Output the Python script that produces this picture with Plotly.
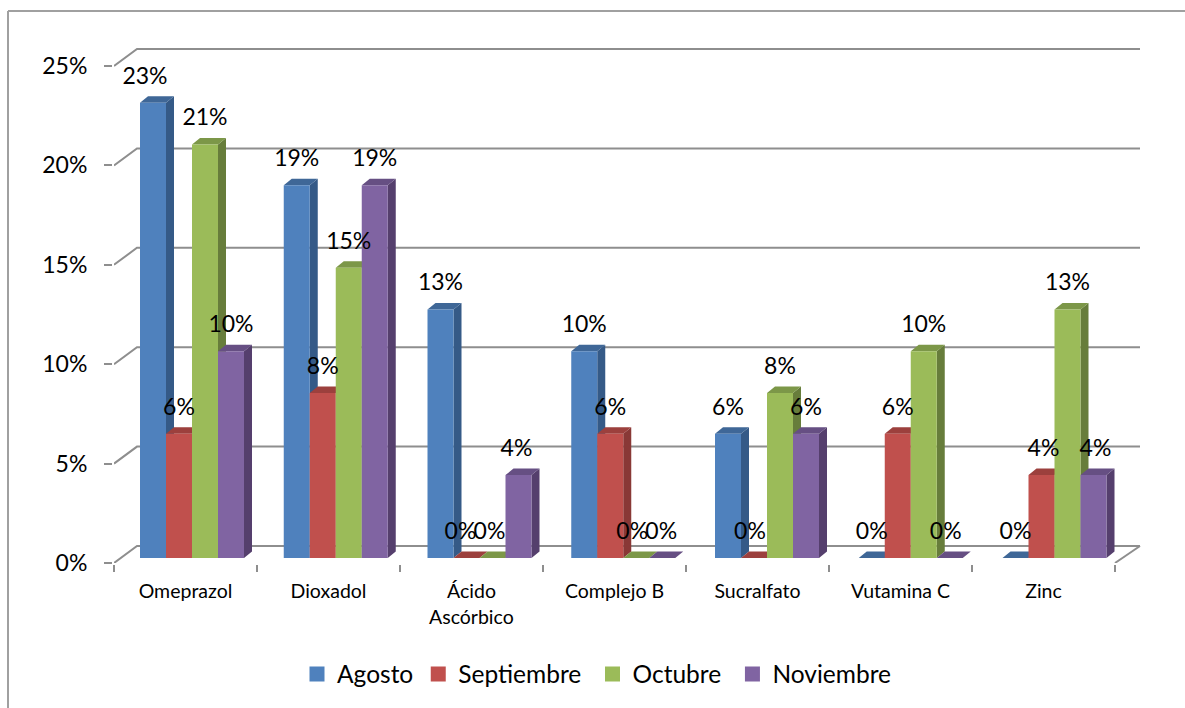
import math
import plotly.graph_objects as go

# ---------- data ----------
CATEGORIES = ["Omeprazol", "Dioxadol", "Ácido", "Complejo B", "Sucralfato", "Vutamina C", "Zinc"]
SERIES = ["Agosto", "Septiembre", "Octubre", "Noviembre"]
LEGEND_NAMES = ["Agosto", "Septiembre\u00a0", "Octubre\u00a0", "Noviembre"]
AGOSTO = [22.9, 18.75, 12.5, 10.4, 6.25, 0, 0]
SEPTIEMBRE = [6.25, 8.3, 0, 6.25, 0, 6.25, 4.17]
OCTUBRE = [20.8, 14.6, 0, 0, 8.3, 10.4, 12.5]
NOVIEMBRE = [10.4, 18.75, 4.17, 0, 6.25, 0, 4.17]
Y_TICKS = [0, 5, 10, 15, 20, 25]

VALUES = [AGOSTO, SEPTIEMBRE, OCTUBRE, NOVIEMBRE]
FRONT = ["#4F81BD", "#C0504D", "#9BBB59", "#8064A2"]
SIDE = ["#355A87", "#893836", "#677D3B", "#553F6D"]
TOP = ["#3F6797", "#9C403D", "#7C9748", "#664F83"]
GRID = "#8E8E8E"
FONT = "Lato, 'Open Sans', sans-serif"

# ---------- geometry helpers (pixels per data unit) ----------
PX_X = 143.0
PX_Y = 497 / 25
W, H = 1185, 708
L, R_EDGE, T, B_EDGE = 114, 1142, 44, 563
to_x = lambda px: px / PX_X
to_y = lambda px: px / PX_Y

WALL_DX, WALL_DY = to_x(23), to_y(17)
WALL_END = to_x(1140 - L)
BAR_DX, BAR_DY = to_x(8), to_y(6.5)
BASE = to_y(5)
BAR_W = to_x(26)
GROUP_START = to_x(26)
GROUP_STEP = 143.75 / PX_X
X_MAX = to_x(R_EDGE - L)
Y_MAX = to_y(B_EDGE - T)

# label nudges in px where the original label sits off the bar centre
NUDGE = {(0, 0): -8, (1, 2): -6, (2, 2): -3, (2, 3): -4, (3, 3): -1, (1, 4): -4,
         (3, 2): -2, (3, 5): -4, (1, 6): 2, (3, 6): 2}

fig = go.Figure()

# back wall grid, floor and connectors
gx, gy = [], []
for t in Y_TICKS:
    gx += [0, WALL_DX, WALL_END, None]
    gy += [t, t + WALL_DY, t + WALL_DY, None]
gx += [7, WALL_END]
gy += [0, WALL_DY]
fig.add_trace(go.Scatter(x=gx, y=gy, mode="lines", line=dict(color=GRID, width=2),
                         showlegend=False, hoverinfo="skip", cliponaxis=False, zorder=-1))

for s, vals in enumerate(VALUES):
    lefts = [GROUP_START + i * GROUP_STEP + s * BAR_W for i in range(len(vals))]
    sx, sy, tx, ty = [], [], [], []
    for x0, v in zip(lefts, vals):
        x1 = x0 + BAR_W
        top = BASE + v
        sx += [x1, x1 + BAR_DX, x1 + BAR_DX, x1, x1, None]
        sy += [BASE, BASE + BAR_DY, top + BAR_DY, top, BASE, None]
        tx += [x0, x0 + BAR_DX, x1 + BAR_DX, x1, x0, None]
        ty += [top, top + BAR_DY, top + BAR_DY, top, top, None]
    fig.add_trace(go.Scatter(x=sx, y=sy, mode="lines", fill="toself", fillcolor=SIDE[s],
                             line=dict(width=0, color=SIDE[s]), showlegend=False,
                             hoverinfo="skip", zorder=2 * s))
    fig.add_trace(go.Scatter(x=tx, y=ty, mode="lines", fill="toself", fillcolor=TOP[s],
                             line=dict(width=0, color=TOP[s]), showlegend=False,
                             hoverinfo="skip", zorder=2 * s))
    fig.add_trace(go.Bar(x=[x + BAR_W / 2 for x in lefts], y=vals, base=BASE, width=BAR_W,
                         marker=dict(color=FRONT[s], line=dict(width=0)), name=SERIES[s],
                         showlegend=False, zorder=2 * s + 1))
    # legend swatch
    fig.add_trace(go.Scatter(x=[None], y=[None], mode="markers", name=LEGEND_NAMES[s],
                             marker=dict(symbol="square", size=15, color=FRONT[s])))

# data labels
for s, vals in enumerate(VALUES):
    xs = [GROUP_START + i * GROUP_STEP + (s + 0.5) * BAR_W + to_x(NUDGE.get((s, i), 0))
          for i in range(len(vals))]
    ys = [BASE + v + to_y(25) for v in vals]
    fig.add_trace(go.Scatter(x=xs, y=ys, mode="text",
                             text=[f"{math.floor(v + 0.5)}%" for v in vals],
                             textposition="middle center",
                             textfont=dict(family=FONT, size=23, color="#000"),
                             showlegend=False, hoverinfo="skip", cliponaxis=False, zorder=20))

plot_w, plot_h = R_EDGE - L, B_EDGE - T
px = lambda p: (p - L) / plot_w
py = lambda p: (B_EDGE - p) / plot_h

fig.update_layout(
    width=W, height=H, autosize=False,
    margin=dict(l=L, r=W - R_EDGE, t=T, b=H - B_EDGE, pad=0),
    paper_bgcolor="white", plot_bgcolor="white",
    barmode="overlay", font=dict(family=FONT, color="#000"),
    showlegend=True,
    legend=dict(orientation="h", x=px(297), y=py(674), xanchor="left", yanchor="middle",
                font=dict(family=FONT, size=24.5, color="#000"), itemwidth=30,
                bgcolor="rgba(0,0,0,0)"),
    xaxis=dict(range=[0, X_MAX], showgrid=False, zeroline=False, showline=True,
               linecolor=GRID, linewidth=2,
               tickmode="array", tickvals=[i + 0.5 for i in range(7)], ticktext=CATEGORIES,
               ticks="", tickfont=dict(family=FONT, size=19.5, color="#000"),
               ticklabelstandoff=10,
               minor=dict(tickmode="array", tickvals=list(range(8)), ticks="outside",
                          ticklen=7, tickwidth=2, tickcolor=GRID)),
    yaxis=dict(range=[0, Y_MAX], showgrid=False, zeroline=False, showline=True,
               linecolor=GRID, linewidth=2,
               tickmode="array", tickvals=Y_TICKS, ticktext=[f"{t}%" for t in Y_TICKS],
               ticks="outside", ticklen=8, tickwidth=2, tickcolor=GRID,
               ticklabelstandoff=12,
               tickfont=dict(family=FONT, size=23, color="#000")),
    annotations=[dict(text="Ascórbico", x=2.5, xref="x", y=py(616), yref="paper",
                      xanchor="center", yanchor="middle", showarrow=False,
                      font=dict(family=FONT, size=19.5, color="#000"))],
    shapes=[dict(type="line", xref="paper", yref="paper", x0=px(8), x1=px(8), y0=py(11), y1=py(708),
                 line=dict(color="#A0A0A0", width=2)),
            dict(type="line", xref="paper", yref="paper", x0=px(8), x1=px(1185), y0=py(11), y1=py(11),
                 line=dict(color="#A0A0A0", width=2))],
)

fig.write_html("out.html", config={"displayModeBar": False},
               post_script="document.body.style.margin='0';document.body.style.overflow='hidden';")
